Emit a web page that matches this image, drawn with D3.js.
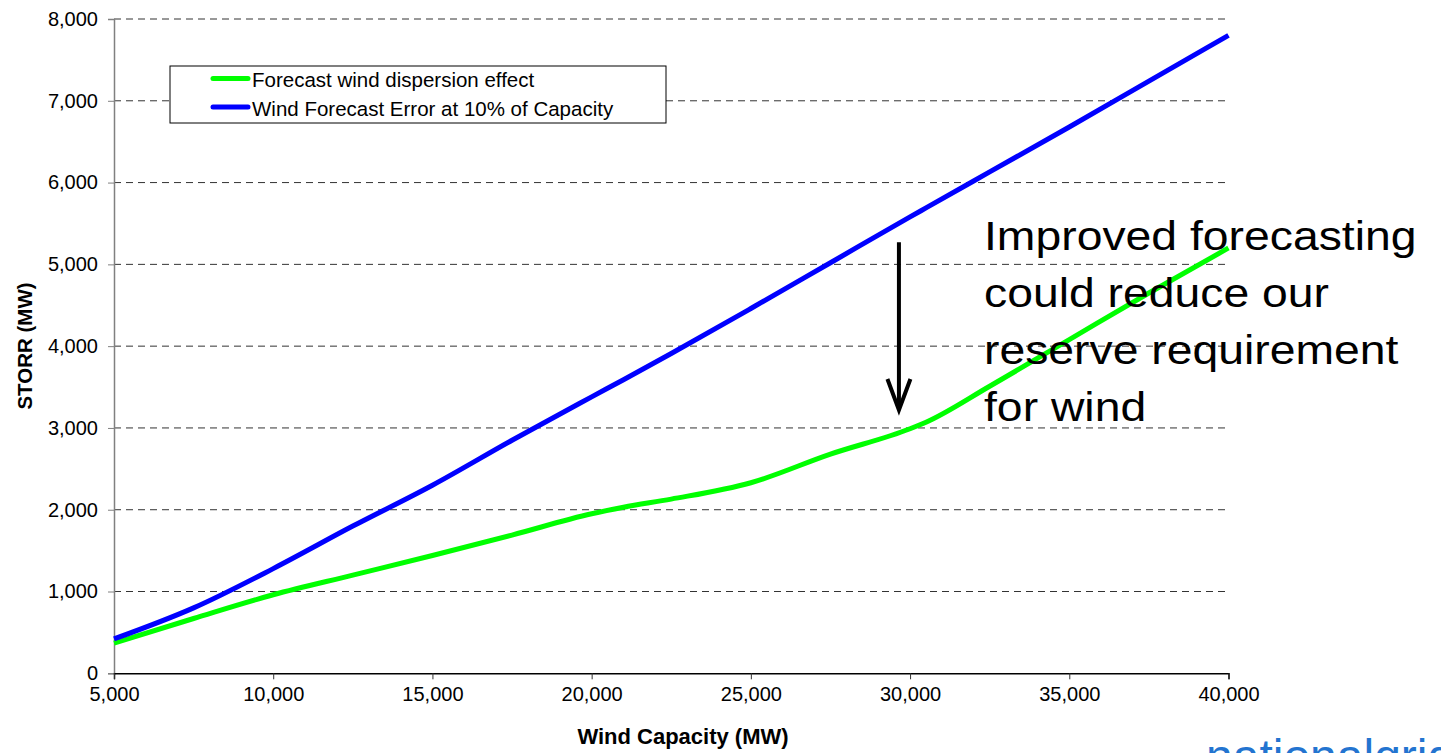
<!DOCTYPE html>
<html>
<head>
<meta charset="utf-8">
<script src="https://cdn.jsdelivr.net/npm/d3@7"></script>
<style>
    body { margin: 0; background: #fff; }
    text { font-family: "Liberation Sans", Arial, sans-serif; }
</style>
</head>
<body>
<div id="chart"></div>
<script>
'use strict';

// Data
const windCapacity = [5000, 7500, 10000, 12500, 15000, 17500, 20000, 21000, 22500, 25000, 27500, 30000, 30500, 32500, 35000, 37500, 40000];
const dispersionEffect = [370, 670, 960, 1200, 1440, 1690, 1950, 2030, 2130, 2330, 2680, 2990, 3070, 3510, 4080, 4650, 5200];
const forecastError10 = [420, 800, 1280, 1800, 2300, 2850, 3380, 3590, 3910, 4460, 5020, 5580, 5690, 6130, 6680, 7240, 7800];
const seriesNames = ['Forecast wind dispersion effect', 'Wind Forecast Error at 10% of Capacity'];
const xTicks = [5000, 10000, 15000, 20000, 25000, 30000, 35000, 40000];
const yTicks = [0, 1000, 2000, 3000, 4000, 5000, 6000, 7000, 8000];
const noteLines = ['Improved forecasting', 'could reduce our', 'reserve requirement', 'for wind'];
const arrowFrom = [29650, 5270];
const arrowTo = [29650, 3220];

class StorrChart {

    // Configs
    w = 1441;
    h = 753;

    constructor(_ref) {
        this.parent = _ref;
        this.initVis();
    }

    initVis() {
        const vis = this;

        vis.svg = d3.select(`#${vis.parent}`)
            .append('svg')
            .attr('width', vis.w)
            .attr('height', vis.h);

        // Plot area
        vis.margin = {top: 19, right: 212.5, bottom: 79.7, left: 114};
        vis.gW = vis.w - vis.margin.left - vis.margin.right;
        vis.gH = vis.h - vis.margin.top - vis.margin.bottom;

        vis.g = vis.svg.append('g')
            .attr('transform', `translate(${vis.margin.left},${vis.margin.top})`);

        // Scales
        vis.x = d3.scaleLinear().domain([5000, 40000]).range([0, vis.gW]);
        vis.y = d3.scaleLinear().domain([0, 8000]).range([vis.gH, 0]);

        vis.buildAxes();
        vis.buildLines();
        vis.buildLegend();
        vis.buildNote();
        vis.buildLogo();
    }

    buildAxes() {
        const vis = this;
        const fmt = d3.format(',');

        // Gridlines
        vis.g.append('g')
            .attr('class', 'grid')
            .selectAll('line')
            .data(yTicks.filter(d => d > 0))
            .join('line')
            .attr('x1', 0)
            .attr('x2', vis.gW)
            .attr('y1', d => vis.y(d))
            .attr('y2', d => vis.y(d))
            .attr('stroke', '#333')
            .attr('stroke-width', 1)
            .attr('stroke-dasharray', '7,5');

        // Y axis
        const yAxis = vis.g.append('g')
            .call(d3.axisLeft(vis.y).tickValues(yTicks).tickFormat(fmt).tickSize(6).tickPadding(10));
        yAxis.select('.domain').attr('stroke', '#808080').attr('stroke-width', 1.5);
        yAxis.selectAll('.tick line').attr('stroke', '#808080');
        yAxis.selectAll('text')
            .attr('font-size', 20)
            .attr('fill', '#000');

        // X axis
        const xAxis = vis.g.append('g')
            .attr('transform', `translate(0,${vis.gH})`)
            .call(d3.axisBottom(vis.x).tickValues(xTicks).tickFormat(fmt).tickSize(6).tickPadding(8));
        xAxis.select('.domain').attr('stroke', '#000').attr('stroke-width', 1.5);
        xAxis.selectAll('.tick line').attr('stroke', '#333');
        xAxis.selectAll('text')
            .attr('font-size', 20)
            .attr('fill', '#000');

        // Axis titles
        vis.svg.append('text')
            .attr('x', 683)
            .attr('y', 744)
            .attr('text-anchor', 'middle')
            .attr('font-size', 22)
            .attr('font-weight', 'bold')
            .text('Wind Capacity (MW)');

        vis.svg.append('text')
            .attr('transform', 'translate(32,346) rotate(-90)')
            .attr('text-anchor', 'middle')
            .attr('font-size', 20.5)
            .attr('font-weight', 'bold')
            .text('STORR (MW)');
    }

    buildLines() {
        const vis = this;

        const line = d3.line()
            .x(d => vis.x(d[0]))
            .y(d => vis.y(d[1]))
            .curve(d3.curveMonotoneX);

        vis.series = [
            {name: seriesNames[0], color: '#00ff00', values: d3.zip(windCapacity, dispersionEffect)},
            {name: seriesNames[1], color: '#0000ff', values: d3.zip(windCapacity, forecastError10)}
        ];

        vis.g.append('g')
            .attr('class', 'lines')
            .selectAll('path')
            .data(vis.series)
            .join('path')
            .attr('d', d => line(d.values))
            .attr('fill', 'none')
            .attr('stroke', d => d.color)
            .attr('stroke-width', 5);
    }

    buildLegend() {
        const vis = this;

        vis.legendG = vis.svg.append('g')
            .attr('class', 'legend')
            .attr('transform', 'translate(170,66)');

        vis.legendG.append('rect')
            .attr('width', 496)
            .attr('height', 57)
            .attr('fill', '#fff')
            .attr('stroke', '#000')
            .attr('stroke-width', 1);

        const item = vis.legendG.selectAll('.item')
            .data(vis.series)
            .join('g')
            .attr('class', 'item')
            .attr('transform', (d, i) => `translate(0,${12.5 + i * 28.5})`);

        item.append('line')
            .attr('x1', 43)
            .attr('x2', 78)
            .attr('stroke', d => d.color)
            .attr('stroke-width', 5)
            .attr('stroke-linecap', 'round');

        item.append('text')
            .attr('x', 82)
            .attr('y', 8.5)
            .attr('font-size', 20.5)
            .text(d => d.name);
    }

    buildNote() {
        const vis = this;

        // Arrow
        const ax = vis.margin.left + vis.x(arrowFrom[0]);
        const ay1 = vis.margin.top + vis.y(arrowFrom[1]);
        const ay2 = vis.margin.top + vis.y(arrowTo[1]);

        vis.noteG = vis.svg.append('g').attr('class', 'note');
        vis.noteG.append('line')
            .attr('x1', ax).attr('x2', ax)
            .attr('y1', ay1).attr('y2', ay2 - 2)
            .attr('stroke', '#000')
            .attr('stroke-width', 4);
        vis.noteG.append('path')
            .attr('d', `M${ax - 11.5},${ay2 - 31} L${ax},${ay2} L${ax + 11.5},${ay2 - 31}`)
            .attr('fill', 'none')
            .attr('stroke', '#000')
            .attr('stroke-width', 4);

        // Text
        vis.noteG.selectAll('text')
            .data(noteLines)
            .join('text')
            .attr('transform', (d, i) => `translate(984,${250 + i * 57}) scale(1.13,1)`)
            .attr('font-size', 41)
            .attr('fill', '#000')
            .text(d => d);
    }

    buildLogo() {
        const vis = this;

        // Logo runs off the bottom edge, as in the slide
        vis.svg.append('text')
            .attr('x', 1206)
            .attr('y', 773)
            .attr('font-size', 48)
            .attr('fill', '#2374d0')
            .text('nationalgrid');
    }
}

new StorrChart('chart');
</script>
</body>
</html>
